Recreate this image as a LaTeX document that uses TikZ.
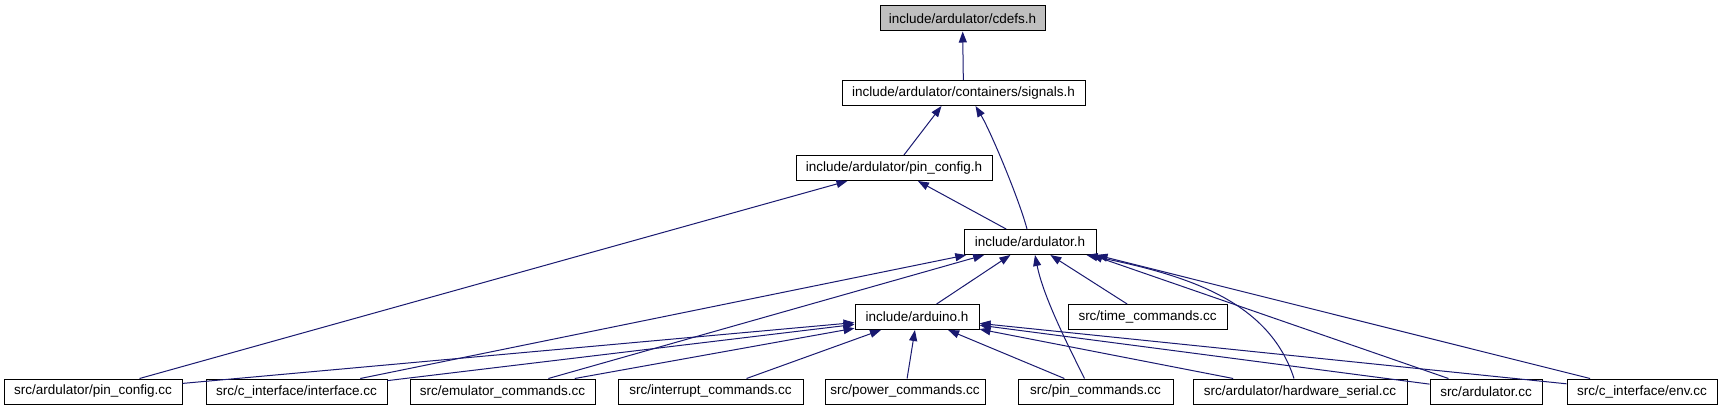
\documentclass[tikz,border=0pt]{standalone}
\usepackage{fontspec}
\setmainfont{Liberation Sans}
\usetikzlibrary{arrows.meta}
\definecolor{depblue}{HTML}{191970}
\definecolor{rootgray}{HTML}{BFBFBF}

\begin{document}
\begin{tikzpicture}[x=1pt,y=-1pt,
    file/.style={draw=black, line width=1pt, fill=white, minimum height=25pt,
      inner sep=0pt, font=\fontsize{13.5}{16}\selectfont},
    dep/.style={draw=depblue, line width=1pt,
      -{Triangle[length=11pt,width=8pt]}}]
  \fill[white] (0,0) rectangle (1723,411);
  \useasboundingbox (0,0) rectangle (1723,411);
  % headers
  \node[file, fill=rootgray, minimum width=165pt] (cdefs) at (962.5,18.5) {include/ardulator/cdefs.h};
  \node[file, minimum width=243pt] (signals) at (963.5,93) {include/ardulator/containers/signals.h};
  \node[file, minimum width=196pt] (pinconfh) at (894,168) {include/ardulator/pin\_config.h};
  \node[file, minimum width=132pt] (ardh) at (1030,242) {include/ardulator.h};
  \node[file, minimum width=124pt] (arduinoh) at (917,317) {include/arduino.h};
  \node[file, minimum width=159pt] (timecc) at (1147.5,317) {src/time\_commands.cc};
  % sources
  \foreach \n/\x/\w/\t in {pinconfcc/93/178/{src/ardulator/pin\_config.cc},
      ifacecc/296.5/181/{src/c\_interface/interface.cc},
      emucc/502.5/185/{src/emulator\_commands.cc},
      irqcc/710.5/185/{src/interrupt\_commands.cc},
      powercc/905/160/{src/power\_commands.cc},
      pincmdcc/1095.5/155/{src/pin\_commands.cc},
      hwserialcc/1300/214/{src/ardulator/hardware\_serial.cc},
      ardcc/1486/112/{src/ardulator.cc},
      envcc/1642/150/{src/c\_interface/env.cc}} {
    \node[file, minimum width=\w pt] (\n) at (\x,391.5) {\t};
  }
  % includes
  \foreach \a/\b in {signals/cdefs, ardh/pinconfh, arduinoh/ardh, timecc/ardh,
      pinconfcc/pinconfh, pinconfcc/arduinoh, ifacecc/ardh, ifacecc/arduinoh,
      emucc/ardh, emucc/arduinoh, irqcc/arduinoh, powercc/arduinoh,
      pincmdcc/arduinoh, hwserialcc/arduinoh, ardcc/arduinoh, envcc/arduinoh} {
    \draw[dep] (\a) -- (\b);
  }
  \draw[dep] (pinconfh) -- ([xshift=-22pt]signals.south);
  \draw[dep] (ardcc) -- ([xshift=-5pt]ardh.south east);
  \draw[dep] (envcc) -- (ardh.south east);
  \draw[dep] ([xshift=-3pt]ardh.north) .. controls +(-8,-30) and +(15,25) .. ([xshift=12pt]signals.south);
  \draw[dep] ([xshift=-11pt]pincmdcc.north) .. controls +(-20,-40) and +(8,40) .. ([xshift=5pt]ardh.south);
  \draw[dep] ([xshift=-6pt]hwserialcc.north) .. controls +(-25,-78) and +(100,20) .. ([xshift=-10pt]ardh.south east);
\end{tikzpicture}
\end{document}
